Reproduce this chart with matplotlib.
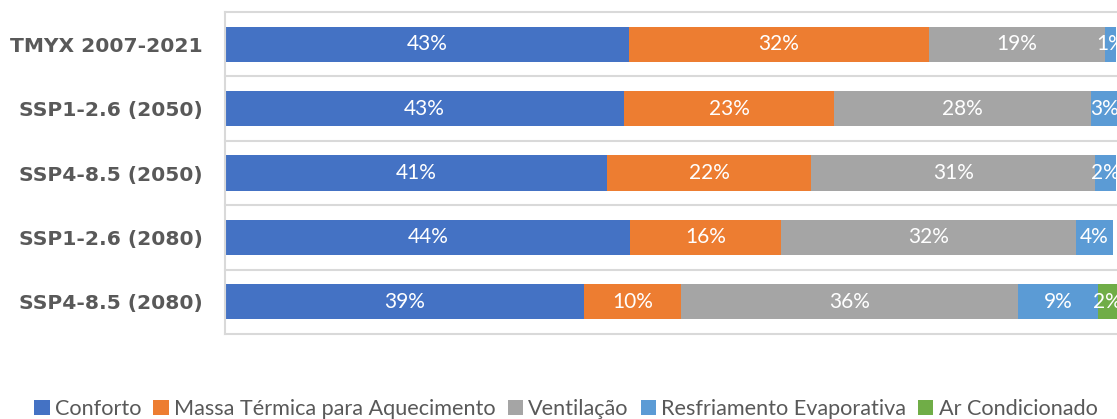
import matplotlib
matplotlib.use("Agg")
import matplotlib.pyplot as plt
import numpy as np

categories = ["TMYX 2007-2021", "SSP1-2.6 (2050)", "SSP4-8.5 (2050)",
              "SSP1-2.6 (2080)", "SSP4-8.5 (2080)"]
series_names = ["Conforto", "Massa Térmica para Aquecimento", "Ventilação",
                "Resfriamento Evaporativa", "Ar Condicionado"]
conforto = [43.4, 42.9, 41.1, 43.6, 38.6]
massa_termica = [32.3, 22.6, 21.9, 16.2, 10.4]
ventilacao = [18.9, 27.6, 30.6, 31.7, 36.3]
resfriamento = [1.2, 3.0, 2.2, 4.0, 8.6]
ar_condicionado = [0.0, 0.0, 0.0, 0.0, 2.0]
colors = ["#4472C4", "#ED7D31", "#A5A5A5", "#5B9BD5", "#70AD47"]

series = [conforto, massa_termica, ventilacao, resfriamento, ar_condicionado]

fig = plt.figure(figsize=(11.17, 4.19), dpi=100)
ax = fig.add_axes([225 / 1117, 1 - 334 / 419, 1 - 225 / 1117, (334 - 12) / 419])

y = np.arange(len(categories))
left = np.zeros(len(categories))
handles = []
for name, vals, col in zip(series_names, series, colors):
    vals = np.array(vals, dtype=float)
    bars = ax.barh(y, vals, left=left, height=0.545, color=col, label=name,
                   linewidth=0)
    handles.append(bars)
    for yi, l, v in zip(y, left, vals):
        if v > 0:
            ax.text(l + v / 2, yi, f"{v:.0f}%", ha="center", va="center",
                    color="white", fontsize=15, family="Lato", clip_on=False)
    left += vals

ax.set_xlim(0, (1117 - 225) / 9.3)
ax.set_ylim(len(categories) - 0.5, -0.5)
ax.set_yticks(y)
ax.set_yticklabels(categories, fontsize=14.6, fontweight="bold",
                   color="#595959", family="DejaVu Sans")
ax.tick_params(axis="y", length=0, pad=16)
ax.set_xticks([])
for s in ["top", "right", "bottom"]:
    ax.spines[s].set_visible(False)
ax.spines["left"].set_color("#D9D9D9")
ax.spines["left"].set_linewidth(1.5)
for b in np.arange(-0.5, len(categories), 1.0):
    ax.axhline(b, color="#D9D9D9", linewidth=1.5, zorder=0, clip_on=False)

leg = fig.legend(handles=handles, labels=series_names, loc="center",
                 bbox_to_anchor=(566 / 1117, 1 - 409 / 419), ncol=5,
                 frameon=False, handlelength=0.7, handleheight=0.7,
                 handletextpad=0.25, columnspacing=0.55,
                 prop={"family": "Lato", "size": 15.6})
for t in leg.get_texts():
    t.set_color("#595959")

fig.savefig("out.png", dpi=100)
